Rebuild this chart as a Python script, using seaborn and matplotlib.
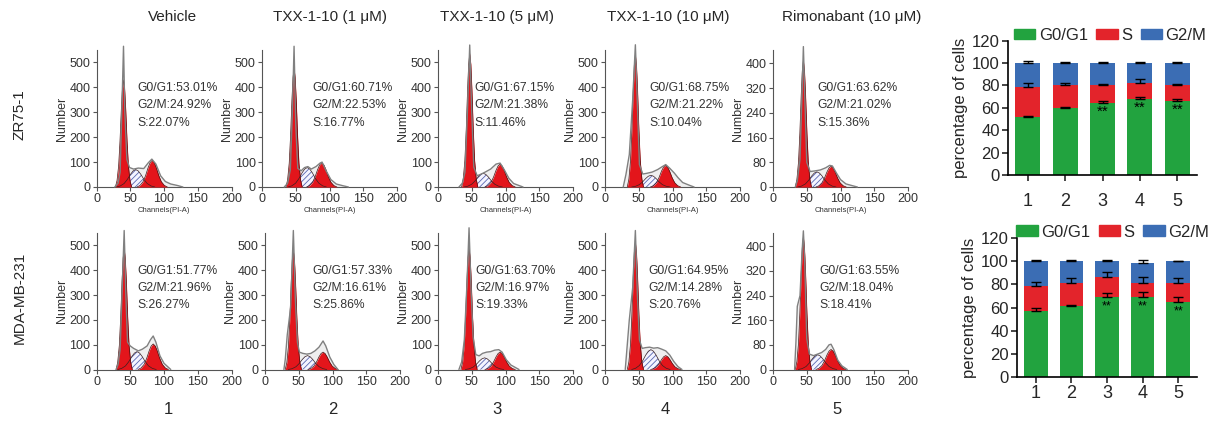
import numpy as np
import matplotlib.pyplot as plt
import seaborn as sns
from matplotlib.patches import Patch

""" Cell cycle figure: PI histograms (ModFit style) plus stacked phase bars """

sns.set_style("ticks")
plt.rcParams['font.family'] = ['Liberation Sans', 'DejaVu Sans']
plt.rcParams['hatch.linewidth'] = 0.6
plt.rcParams['hatch.color'] = "#5866b0"

# ---- data ----
titles = ["Vehicle", "TXX-1-10 (1 \u03bcM)", "TXX-1-10 (5 \u03bcM)",
          "TXX-1-10 (10 \u03bcM)", "Rimonabant (10 \u03bcM)"]
cell_lines = ["ZR75-1", "MDA-MB-231"]
groups = ["1", "2", "3", "4", "5"]

# fitted phases of the histograms (channel of the peak, count at the peak)
zr_g1_pos = [40, 47.5, 47, 45, 45]
zr_g1_peak = [430, 477, 536, 531, 409]
zr_g2_pos = [82.5, 88.5, 92, 89.7, 86]
zr_g2_peak = [107, 97, 92, 87, 67]
zr_s_pos = [58, 67, 67, 68, 65]
zr_s_peak = [70, 78, 55, 47, 49]

mda_g1_pos = [41, 42, 46, 45, 45]
mda_g1_peak = [487, 480, 490, 513, 430]
mda_g2_pos = [84, 86, 92, 90, 86]
mda_g2_peak = [103, 70, 70, 56, 65]
mda_s_pos = [60, 63, 69, 68, 66]
mda_s_peak = [72, 56, 47, 80, 48]

# raw histogram outline, (channel, count)
zr_outline = [
    [(27, 0), (32, 15), (35, 60), (37, 250), (40, 565), (42, 300), (45, 110), (49, 78), (55, 72),
     (62, 76), (70, 74), (77, 98), (82, 112), (88, 92), (95, 45), (102, 22), (110, 12), (120, 6), (128, 0)],
    [(33, 0), (38, 15), (42, 70), (45, 300), (47.5, 565), (50, 250), (53, 75), (58, 65), (63, 78),
     (68, 82), (73, 72), (80, 82), (86, 96), (89, 100), (95, 65), (102, 30), (110, 12), (120, 5), (128, 0)],
    [(31, 0), (36, 15), (40, 60), (44, 330), (47, 570), (50, 300), (53, 80), (58, 45), (64, 52),
     (70, 60), (78, 72), (86, 92), (92, 96), (98, 70), (105, 35), (112, 14), (122, 4), (126, 0)],
    [(27, 0), (31, 50), (36, 130), (41, 350), (45, 571), (48, 330), (51, 90), (56, 52), (62, 55),
     (70, 60), (78, 70), (85, 82), (90, 90), (96, 75), (103, 55), (108, 38), (115, 18), (125, 7), (132, 0)],
    [(33, 0), (36, 20), (40, 90), (43, 300), (45, 454), (47, 300), (50, 80), (55, 50), (62, 52),
     (70, 55), (78, 62), (84, 70), (88, 68), (94, 45), (100, 24), (108, 10), (118, 4), (125, 0)],
]
mda_outline = [
    [(29, 0), (32, 20), (35, 80), (38, 320), (41, 560), (43.5, 300), (46, 110), (50, 95), (55, 85),
     (62, 75), (68, 82), (75, 95), (80, 120), (84, 135), (88, 110), (94, 55), (100, 25), (106, 10), (110, 0)],
    [(28, 0), (30, 40), (33, 140), (38, 250), (42, 560), (45, 280), (48, 110), (51, 70), (56, 65),
     (62, 62), (68, 65), (74, 75), (80, 90), (86, 115), (90, 95), (96, 50), (102, 20), (108, 0)],
    [(31, 0), (35, 30), (39, 120), (43, 350), (46, 571), (49, 320), (52, 130), (56, 60), (61, 55),
     (66, 65), (72, 70), (78, 72), (84, 78), (90, 80), (95, 70), (101, 40), (108, 18), (116, 6), (120, 0)],
    [(30, 0), (33, 100), (36, 200), (41, 330), (45, 560), (48, 300), (51, 120), (55, 85), (60, 88),
     (66, 90), (72, 86), (78, 88), (84, 82), (90, 75), (96, 58), (102, 32), (108, 12), (114, 0)],
    [(32, 0), (34, 90), (36, 205), (40, 240), (43, 380), (45, 450), (47, 350), (50, 100), (54, 50),
     (60, 45), (66, 50), (72, 55), (78, 65), (83, 80), (86, 82), (90, 65), (96, 30), (102, 12), (110, 0)],
]

# percentages printed inside the histograms
zr_g1_pct = ["53.01", "60.71", "67.15", "68.75", "63.62"]
zr_g2_pct = ["24.92", "22.53", "21.38", "21.22", "21.02"]
zr_s_pct = ["22.07", "16.77", "11.46", "10.04", "15.36"]
mda_g1_pct = ["51.77", "57.33", "63.70", "64.95", "63.55"]
mda_g2_pct = ["21.96", "16.61", "16.97", "14.28", "18.04"]
mda_s_pct = ["26.27", "25.86", "19.33", "20.76", "18.41"]

# stacked bars (mean, upper error)
zr_g1 = [51.5, 60, 64.5, 67.8, 66]
zr_g1_err = [1, 1, 1.5, 1.7, 1.5]
zr_s = [27, 20, 16, 14, 14.5]
zr_s_err = [3.5, 2.6, 1.2, 3.6, 0.5]
zr_g2m = [21.5, 20, 19.5, 18.2, 19.5]
zr_g2m_err = [2, 1, 0.6, 1, 1]
zr_stars = ["", "", "**", "**", "**"]

mda_g1 = [57, 61.5, 68.8, 68.8, 65]
mda_g1_err = [3, 1, 3.5, 4.5, 3.8]
mda_s = [21.6, 20, 17.3, 12.7, 15.9]
mda_s_err = [3.8, 3.8, 4.7, 4.6, 4.9]
mda_g2m = [21.4, 18.5, 13.9, 16.8, 19.1]
mda_g2m_err = [1, 1, 1, 3, 0.7]
mda_stars = ["", "", "**", "**", "**"]

# ---- style ----
GREEN, RED, BLUE = "#22a33f", "#e3242b", "#3b6db4"
PEAK_RED = "#e3151b"
G1_WIDTH, G2_WIDTH, S_WIDTH = 4.0, 7.5, 9.5
# bell profile for the fitted phases (offsets in widths, relative height)
BELL_X = np.array([-3, -2.4, -1.8, -1.3, -0.8, -0.4, 0, 0.4, 0.8, 1.3, 1.8, 2.4, 3])
BELL_Y = np.array([0, .06, .2, .43, .73, .92, 1, .92, .73, .43, .2, .06, 0])

W, H = 1215, 425
fig = plt.figure(figsize=(12.15, 4.25), dpi=100)


def px_axes(left, top, right, bottom):
    return fig.add_axes([left / W, 1 - bottom / H, (right - left) / W, (bottom - top) / H])


def bell(center, height, width):
    return center + BELL_X * width, height * BELL_Y


def draw_hist(ax, g1p, g1h, g2p, g2h, sp, sh, outline, ymax, ystep, pcts, xlabel):
    ox, oy = zip(*outline)
    ax.fill_between(ox, oy, color="#efefef", lw=0, zorder=1)
    sx, sy = bell(sp, sh, S_WIDTH)
    ax.fill_between(sx, sy, facecolor="#f4f4ff", edgecolor="#5866b0", hatch="//////", lw=0, zorder=2)
    for pos, peak, wid in [(g1p, g1h, G1_WIDTH), (g2p, g2h, G2_WIDTH)]:
        bx, by = bell(pos, peak, wid)
        ax.fill_between(bx, by, color=PEAK_RED, lw=0, zorder=3)
        ax.plot(bx, by, color="#4a1010", lw=0.5, zorder=4)
    ax.plot(sx, sy, color="#3a2020", lw=0.5, zorder=4)
    ax.plot(ox, oy, color="#808080", lw=1.0, zorder=5, clip_on=False)

    ax.set_xlim(0, 200)
    ax.set_ylim(0, ymax)
    ax.set_xticks([0, 50, 100, 150, 200])
    ax.set_yticks(np.arange(0, ymax, ystep))
    ax.set_ylabel("Number", fontsize=9, color="#333333", labelpad=1)
    if xlabel:
        ax.set_xlabel("Channels(PI-A)", fontsize=5.5, color="#333333", labelpad=1)
    ax.tick_params(direction="out", length=3, width=0.8, color="#555555",
                   labelsize=9, labelcolor="#333333", pad=1.5)
    for side in ["left", "bottom"]:
        ax.spines[side].set_color("#555555")
        ax.spines[side].set_linewidth(0.8)
    sns.despine(ax=ax)
    lines = [f"G0/G1:{pcts[0]}%", f"G2/M:{pcts[1]}%", f"S:{pcts[2]}%"]
    for i, line in enumerate(lines):
        ax.text(pcts[3], 0.72 - 0.125 * i, line, transform=ax.transAxes,
                fontsize=8.7, color="#333333", va="center", zorder=6)


def draw_bars(ax, g1, g1e, s, se, g2m, g2me, stars, legend_xy, xpad, star_size):
    s_top = [a + b for a, b in zip(g1, s)]
    total = [a + b for a, b in zip(s_top, g2m)]
    for vals, col in [(total, BLUE), (s_top, RED), (g1, GREEN)]:
        sns.barplot(x=groups, y=vals, color=col, width=0.67, saturation=1,
                    linewidth=0, ax=ax)
    for vals, err in [(g1, g1e), (s_top, se), (total, g2me)]:
        ax.errorbar(range(5), vals, yerr=[np.zeros(5), err], fmt="none", ecolor="black",
                    elinewidth=1, capsize=3.5, capthick=1, zorder=5)
    for i, st in enumerate(stars):
        if st:
            ax.text(i, g1[i] - 8, st, ha="center", va="center", fontsize=star_size, color="black")
    ax.set_ylim(0, 120)
    ax.set_xlim(-0.53, 4.53)
    ax.set_yticks(range(0, 121, 20))
    ax.set_xlabel("")
    ax.set_ylabel("percentage of cells", fontsize=12, labelpad=3)
    ax.tick_params(direction="out", length=4, width=1.2, labelsize=12, pad=2)
    ax.tick_params(axis="x", labelsize=13, pad=xpad)
    for side in ["left", "bottom"]:
        ax.spines[side].set_linewidth(1.2)
        ax.spines[side].set_color("black")
    sns.despine(ax=ax)
    handles = [Patch(color=GREEN, label="G0/G1"), Patch(color=RED, label="S"),
               Patch(color=BLUE, label="G2/M")]
    ax.legend(handles=handles, ncol=3, loc="center", bbox_to_anchor=legend_xy,
              frameon=False, fontsize=12, handlelength=1.3, handleheight=0.6,
              handletextpad=0.2, columnspacing=0.5, borderaxespad=0, borderpad=0)


# histogram panels
row1_left = [96.5, 262, 438, 605, 773]
row2_left = [96.5, 265, 438, 605, 773]
text_x1 = [0.30, 0.37, 0.27, 0.33, 0.33]
text_x2 = [0.30, 0.35, 0.28, 0.32, 0.34]
hist_ymax = [550, 550, 550, 550, 443]
hist_step = [100, 100, 100, 100, 80]

for i in range(5):
    ax = px_axes(row1_left[i], 50, row1_left[i] + 135, 187)
    draw_hist(ax, zr_g1_pos[i], zr_g1_peak[i], zr_g2_pos[i], zr_g2_peak[i],
              zr_s_pos[i], zr_s_peak[i], zr_outline[i], hist_ymax[i], hist_step[i],
              (zr_g1_pct[i], zr_g2_pct[i], zr_s_pct[i], text_x1[i]), True)
    ax = px_axes(row2_left[i], 233, row2_left[i] + 135, 369.5)
    draw_hist(ax, mda_g1_pos[i], mda_g1_peak[i], mda_g2_pos[i], mda_g2_peak[i],
              mda_s_pos[i], mda_s_peak[i], mda_outline[i], hist_ymax[i], hist_step[i],
              (mda_g1_pct[i], mda_g2_pct[i], mda_s_pct[i], text_x2[i]), False)

# stacked bar charts
ax = px_axes(1008, 40.7, 1197, 175)
draw_bars(ax, zr_g1, zr_g1_err, zr_s, zr_s_err, zr_g2m, zr_g2m_err, zr_stars, (0.54, 1.04), 9, 11)
ax = px_axes(1017, 238.3, 1197, 376.7)
draw_bars(ax, mda_g1, mda_g1_err, mda_s, mda_s_err, mda_g2m, mda_g2m_err, mda_stars, (0.53, 1.045), 2, 9)

# titles, row labels, group numbers
title_x = [172, 330, 497, 668, 852]
for tx, t in zip(title_x, titles):
    fig.text(tx / W, 1 - 17 / H, t, ha="center", va="center", fontsize=11)
for ty, lab in zip([115, 298], cell_lines):
    fig.text(20 / W, 1 - ty / H, lab, rotation=90, ha="center", va="center", fontsize=11)
num_x = [168, 333, 497, 665, 837]
for nx, g in zip(num_x, groups):
    fig.text(nx / W, 1 - 410 / H, g, ha="center", va="center", fontsize=12)

plt.savefig("out.png", dpi=100)
